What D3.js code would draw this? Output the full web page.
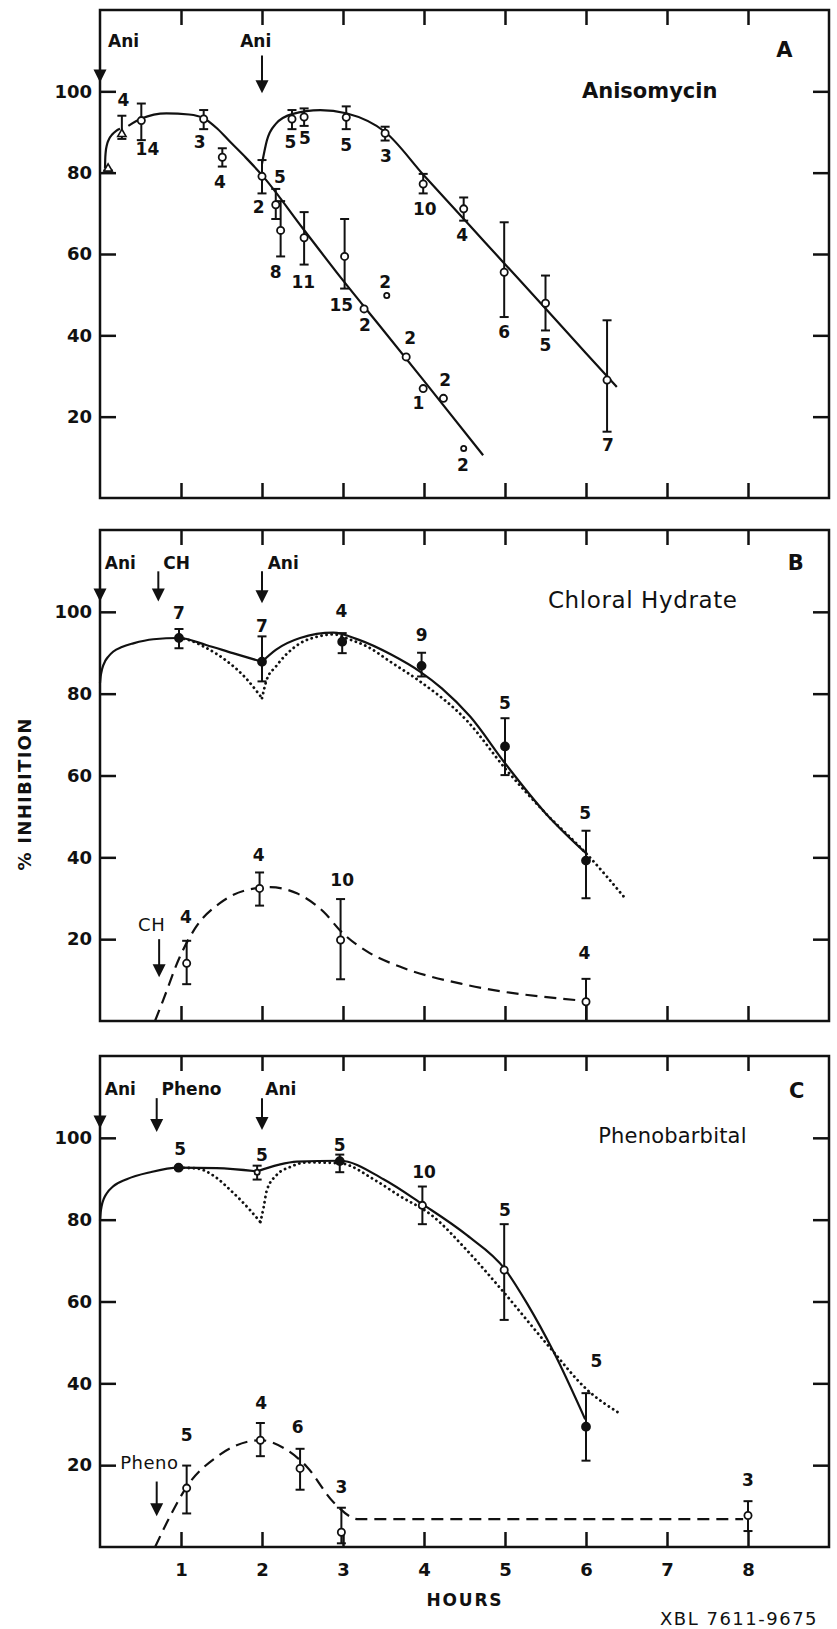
<!DOCTYPE html>
<html>
<head>
<meta charset="utf-8">
<title>% inhibition after anisomycin</title>
<script src="https://d3js.org/d3.v7.min.js"></script>
<style>
  body { margin: 0; background: #fff; }
  svg { display: block; }
  text { font-family: "DejaVu Sans", sans-serif; fill: #111; }
  .tick text { font-size: 18px; font-weight: bold; }
  .n { font-size: 17px; font-weight: bold; }
  .drug { font-size: 17px; font-weight: bold; }
  .drug2 { font-size: 18px; letter-spacing: 0.5px; }
  .letter { font-size: 21px; font-weight: bold; }
</style>
</head>
<body>
<script>
const width = 837, height = 1629;

// axes
const hourTicks = [1, 2, 3, 4, 5, 6, 7, 8];
const pctTicks = [20, 40, 60, 80, 100];

// ---- A: anisomycin alone (h = hours, v = % inhibition, lo/hi = error bar)
const aPoints = [
  {h: 0.10, v: 80.5, lo: 80.5, hi: 80.5, m: 'tri'},
  {h: 0.27, v: 89.0, lo: 88.3, hi: 94.0, m: 'tri'},
  {h: 0.51, v: 92.8, lo: 88.0, hi: 97.0, m: 'open'},
  {h: 1.28, v: 93.2, lo: 90.7, hi: 95.4, m: 'open'},
  {h: 1.51, v: 83.8, lo: 81.5, hi: 86.0, m: 'open'},
  {h: 2.00, v: 79.1, lo: 74.9, hi: 83.1, m: 'open'},
  {h: 2.17, v: 72.1, lo: 68.6, hi: 76.0, m: 'open'},
  {h: 2.23, v: 65.8, lo: 59.4, hi: 73.0, m: 'open'},
  {h: 2.52, v: 64.0, lo: 57.4, hi: 70.3, m: 'open'},
  {h: 3.02, v: 59.4, lo: 51.5, hi: 68.6, m: 'open'},
  {h: 3.26, v: 46.5, m: 'open'},
  {h: 3.54, v: 49.8, m: 'small'},
  {h: 3.78, v: 34.7, m: 'open'},
  {h: 3.99, v: 26.9, m: 'open'},
  {h: 4.24, v: 24.5, m: 'open'},
  {h: 4.49, v: 12.2, m: 'small'},
  {h: 2.37, v: 93.2, lo: 90.7, hi: 95.4, m: 'open'},
  {h: 2.52, v: 93.7, lo: 91.5, hi: 95.8, m: 'open'},
  {h: 3.04, v: 93.6, lo: 90.7, hi: 96.3, m: 'open'},
  {h: 3.52, v: 89.7, lo: 87.9, hi: 91.3, m: 'open'},
  {h: 3.99, v: 77.2, lo: 74.9, hi: 79.7, m: 'open'},
  {h: 4.49, v: 71.1, lo: 68.2, hi: 73.9, m: 'open'},
  {h: 4.99, v: 55.5, lo: 44.5, hi: 67.8, m: 'open'},
  {h: 5.50, v: 47.9, lo: 41.2, hi: 54.7, m: 'open'},
  {h: 6.26, v: 29.0, lo: 16.3, hi: 43.7, m: 'open'}
];
// number of experiments, placed where they are written
const aCounts = [
  ['4', 0.29, 97.8], ['14', 0.585, 85.8], ['3', 1.23, 87.5], ['4', 1.48, 77.7],
  ['2', 1.96, 71.7], ['5', 2.22, 78.9], ['8', 2.17, 55.6], ['11', 2.51, 53.1],
  ['15', 2.98, 47.4], ['2', 3.27, 42.5], ['2', 3.52, 53.1], ['2', 3.83, 39.3],
  ['1', 3.93, 23.3], ['2', 4.26, 29.0], ['2', 4.48, 8.1],
  ['5', 2.35, 87.5], ['5', 2.53, 88.6], ['5', 3.04, 86.9], ['3', 3.53, 84.2],
  ['10', 4.01, 71.0], ['4', 4.47, 64.6], ['6', 4.99, 40.9], ['5', 5.50, 37.6], ['7', 6.27, 13.0]
];
const aSolid = [
  [[0.062, 81.0], [0.064, 83.0], [0.07, 85.0], [0.085, 86.8], [0.11, 88.2], [0.15, 89.4],
   [0.2, 90.3], [0.247, 90.8]],
  [[0.35, 91.5], [0.51, 93.3], [0.82, 94.6], [1.1, 94.3], [1.28, 93.4], [1.45, 90.8], [1.6, 87.7],
   [1.8, 83.7], [2.0, 79.4], [2.5, 66.4], [3.0, 53.5], [3.5, 41.2], [4.0, 28.8], [4.73, 10.5]],
  [[2.0, 82.2], [2.06, 87.9], [2.17, 92.0], [2.37, 94.4], [2.72, 95.4], [3.04, 94.6], [3.52, 90.0],
   [4.0, 79.3], [4.5, 68.4], [5.0, 57.5], [5.5, 46.6], [6.0, 35.6], [6.38, 27.3]]
];
const aDoses = [
  {drug: 'Ani', h: 0, top: 114.2, tip: 102.2, tx: 0.10, ty: 112.5},
  {drug: 'Ani', h: 2, top: 108.8, tip: 99.5, tx: 1.73, ty: 112.5}
];

// ---- B: chloral hydrate
const bPoints = [
  {h: 0.975, v: 93.6, lo: 91.1, hi: 95.8, m: 'fill'},
  {h: 2.00, v: 87.8, lo: 83.0, hi: 94.0, m: 'fill'},
  {h: 2.99, v: 92.7, lo: 89.9, hi: 94.8, m: 'fill'},
  {h: 3.97, v: 86.8, lo: 84.2, hi: 90.0, m: 'fill'},
  {h: 5.00, v: 67.1, lo: 60.1, hi: 74.0, m: 'fill'},
  {h: 6.00, v: 39.2, lo: 30.0, hi: 46.5, m: 'fill'},
  {h: 1.07, v: 14.1, lo: 9.0, hi: 19.6, m: 'open'},
  {h: 1.97, v: 32.4, lo: 28.2, hi: 36.3, m: 'open'},
  {h: 2.97, v: 19.8, lo: 10.2, hi: 29.8, m: 'open'},
  {h: 6.00, v: 4.7, lo: 0, hi: 10.3, m: 'open'}
];
const bCounts = [
  ['7', 0.975, 99.7], ['7', 2.0, 96.6], ['4', 2.98, 100.3], ['9', 3.97, 94.4],
  ['5', 5.0, 77.7], ['5', 5.99, 50.8],
  ['4', 1.06, 25.5], ['4', 1.96, 40.6], ['10', 2.99, 34.6], ['4', 5.98, 16.7]
];
const bSolid = [
  [[0, 82.6], [0.008, 84.2], [0.021, 85.6], [0.04, 86.9], [0.062, 87.9], [0.1, 89.0], [0.165, 90.3],
   [0.27, 91.4], [0.411, 92.3], [0.658, 93.3], [0.975, 93.6], [1.31, 91.9], [1.64, 89.9], [2.0, 87.8]],
  [[2.0, 87.8], [2.17, 90.7], [2.47, 93.6], [2.88, 94.9], [3.19, 93.2], [3.6, 89.5], [3.95, 85.4],
   [4.22, 81.3], [4.57, 74.4], [5.0, 63.0], [5.5, 50.8], [6.0, 41.0]]
];
const bDotted = [
  [[0.975, 93.6], [1.1, 93.1], [1.3, 91.3], [1.55, 88.2], [1.8, 83.8], [1.95, 80.2], [2.0, 78.9]],
  [[2.0, 78.9], [2.06, 83.5], [2.17, 86.6], [2.3, 89.6], [2.47, 92.3], [2.7, 94.0], [2.88, 94.5],
   [3.09, 93.2], [3.3, 91.5], [3.6, 87.6], [3.95, 83.0], [4.53, 73.4], [5.02, 61.3], [5.51, 50.6],
   [6.01, 40.8], [6.5, 29.6]]
];
const bDashed = [
  [[0.679, 0], [0.78, 5.1], [0.986, 15.7], [1.19, 23.1], [1.48, 28.8], [1.81, 32.0], [2.1, 32.7],
   [2.43, 31.2], [2.76, 26.7], [2.98, 21.8], [3.33, 16.6], [3.7, 13.3], [4.53, 8.8], [5.88, 5.1]]
];
const bDoses = [
  {drug: 'Ani', h: 0, top: 110.3, tip: 102.5, tx: 0.06, ty: 111.9},
  {drug: 'CH', h: 0.72, top: 109.9, tip: 102.5, tx: 0.78, ty: 112},
  {drug: 'Ani', h: 2, top: 109.9, tip: 102.1, tx: 2.07, ty: 112}
];
const bLateDoses = [
  {drug: 'CH', h: 0.73, top: 20, tip: 10.7, tx: 0.47, ty: 23.5}
];

// ---- C: phenobarbital
const cPoints = [
  {h: 0.97, v: 92.7, m: 'fill'},
  {h: 1.94, v: 91.6, lo: 89.8, hi: 93.2, m: 'small'},
  {h: 2.96, v: 94.3, lo: 91.6, hi: 95.9, m: 'fill'},
  {h: 3.98, v: 83.5, lo: 78.9, hi: 88.1, m: 'open'},
  {h: 4.99, v: 67.7, lo: 55.5, hi: 78.9, m: 'open'},
  {h: 6.00, v: 29.4, lo: 21.1, hi: 37.6, m: 'fill'},
  {h: 1.07, v: 14.4, lo: 8.2, hi: 19.9, m: 'open'},
  {h: 1.98, v: 26.1, lo: 22.2, hi: 30.3, m: 'open'},
  {h: 2.47, v: 19.2, lo: 14.0, hi: 24.0, m: 'open'},
  {h: 2.98, v: 3.6, lo: 0.9, hi: 9.6, m: 'open'},
  {h: 8.00, v: 7.7, lo: 3.9, hi: 11.2, m: 'open'}
];
const cCounts = [
  ['5', 0.99, 97.3], ['5', 2.0, 95.9], ['5', 2.96, 98.4], ['10', 4.0, 91.6],
  ['5', 5.0, 82.4], ['5', 6.13, 45.4],
  ['5', 1.07, 27.5], ['4', 1.99, 35.3], ['6', 2.44, 29.4], ['3', 2.98, 14.8], ['3', 8.0, 16.4]
];
const cSolid = [
  [[0, 79.8], [0.008, 81.8], [0.021, 83.4], [0.045, 85.0], [0.082, 86.4], [0.16, 88.1], [0.33, 89.9],
   [0.62, 91.6], [0.97, 92.7], [1.44, 92.6], [1.94, 91.8]],
  [[1.94, 91.8], [2.2, 93.4], [2.43, 94.2], [2.96, 94.4], [3.5, 89.9], [3.98, 83.8], [4.53, 76.2],
   [5.0, 67.9], [5.27, 59.6], [5.6, 47.7], [5.99, 31.2]]
];
const cDotted = [
  [[0.97, 92.7], [1.2, 92.5], [1.42, 90.5], [1.6, 87.4], [1.85, 82.4], [1.98, 79.4]],
  [[1.98, 79.4], [2.02, 83.0], [2.06, 87.2], [2.18, 90.9], [2.35, 92.9], [2.55, 94.0], [2.96, 93.8],
   [3.4, 89.6], [3.7, 85.8], [4.1, 81.0], [4.53, 72.5], [4.94, 63.3], [5.56, 48.6], [6.01, 38.5],
   [6.42, 32.6]]
];
const cDashed = [
  [[0.68, 0], [0.86, 7.3], [1.07, 14.7], [1.44, 22.0], [1.98, 26.1], [2.3, 23.8], [2.55, 19.7],
   [2.88, 11.0], [3.19, 6.8], [3.5, 6.8], [7.94, 6.8]]
];
const cDoses = [
  {drug: 'Ani', h: 0, top: 114.7, tip: 102.3, tx: 0.06, ty: 112},
  {drug: 'Pheno', h: 0.7, top: 109.7, tip: 101.4, tx: 0.76, ty: 112},
  {drug: 'Ani', h: 2, top: 109.7, tip: 101.9, tx: 2.04, ty: 112}
];
const cLateDoses = [
  {drug: 'Pheno', h: 0.7, top: 16, tip: 7.5, tx: 0.25, ty: 20.6}
];

const panels = [
  {top: 10, bottom: 498, points: aPoints, counts: aCounts, solid: aSolid, dotted: [], dashed: [],
   doses: aDoses, late: [], letter: 'A', letterAt: [8.45, 110.3],
   title: 'Anisomycin', titleAt: [5.95, 100.2], titleStyle: 'font-size:21px;font-weight:bold'},
  {top: 530, bottom: 1021, points: bPoints, counts: bCounts, solid: bSolid, dotted: bDotted, dashed: bDashed,
   doses: bDoses, late: bLateDoses, letter: 'B', letterAt: [8.59, 112.1],
   title: 'Chloral Hydrate', titleAt: [5.53, 102.9], titleStyle: 'font-size:23px;letter-spacing:0.6px'},
  {top: 1056, bottom: 1547, points: cPoints, counts: cCounts, solid: cSolid, dotted: cDotted, dashed: cDashed,
   doses: cDoses, late: cLateDoses, letter: 'C', letterAt: [8.6, 111.7], hours: true,
   title: 'Phenobarbital', titleAt: [6.15, 100.5], titleStyle: 'font-size:21px;letter-spacing:0.2px'}
];

let svg = d3.select('body').append('svg').attr('width', width).attr('height', height)
  .style('background', '#fff');

let x = d3.scaleLinear().domain([0, 9]).range([100, 829]);

panels.forEach(p => {
  let y = d3.scaleLinear().domain([0, 120]).range([p.bottom, p.top]);
  let g = svg.append('g');

  // ticks on all four sides, pointing in
  let axes = [
    [d3.axisBottom(x).tickValues(hourTicks).tickSize(-15).tickPadding(16)
       .tickFormat(p.hours ? d3.format('d') : () => ''), `translate(0,${p.bottom})`],
    [d3.axisTop(x).tickValues(hourTicks).tickSize(-15).tickFormat(() => ''), `translate(0,${p.top})`],
    [d3.axisLeft(y).tickValues(pctTicks).tickSize(-16).tickPadding(8), `translate(${x(0)},0)`],
    [d3.axisRight(y).tickValues(pctTicks).tickSize(-16).tickFormat(() => ''), `translate(${x(9)},0)`]
  ];
  axes.forEach(([ax, tr]) => {
    let a = g.append('g').attr('transform', tr).call(ax);
    a.select('.domain').remove();
    a.selectAll('.tick line').attr('stroke', '#111').attr('stroke-width', 2.5);
    a.selectAll('.tick text').attr('fill', '#111').attr('font-family', null).attr('font-size', null);
  });
  g.append('rect').attr('x', x(0)).attr('y', y(120)).attr('width', x(9) - x(0)).attr('height', y(0) - y(120))
    .attr('fill', 'none').attr('stroke', '#111').attr('stroke-width', 2.5);

  // fitted curves
  let line = d3.line().x(d => x(d[0])).y(d => y(d[1])).curve(d3.curveMonotoneX);
  let styles = [
    [p.solid, null, 2.2, 'butt'],
    [p.dotted, '0.1 5', 2.8, 'round'],
    [p.dashed, '12 7', 2.2, 'butt']
  ];
  styles.forEach(([segs, dash, w, cap]) => {
    g.selectAll(null).data(segs).enter().append('path')
      .attr('d', line).attr('fill', 'none').attr('stroke', '#111')
      .attr('stroke-width', w).attr('stroke-dasharray', dash).attr('stroke-linecap', cap);
  });

  // error bars
  let eb = p.points.filter(d => d.lo != null);
  g.selectAll(null).data(eb).enter().append('line')
    .attr('x1', d => x(d.h)).attr('x2', d => x(d.h))
    .attr('y1', d => y(d.lo)).attr('y2', d => y(d.hi))
    .attr('stroke', '#111').attr('stroke-width', 2);
  ['lo', 'hi'].forEach(k => {
    g.selectAll(null).data(eb).enter().append('line')
      .attr('x1', d => x(d.h) - 4.5).attr('x2', d => x(d.h) + 4.5)
      .attr('y1', d => y(d[k])).attr('y2', d => y(d[k]))
      .attr('stroke', '#111').attr('stroke-width', 2);
  });

  // markers
  let tri = d3.symbol(d3.symbolTriangle, 30);
  g.selectAll(null).data(p.points.filter(d => d.m === 'tri')).enter().append('path')
    .attr('d', tri).attr('transform', d => `translate(${x(d.h)},${y(d.v) - 2})`)
    .attr('fill', '#fff').attr('stroke', '#111').attr('stroke-width', 1.6);
  g.selectAll(null).data(p.points.filter(d => d.m !== 'tri')).enter().append('circle')
    .attr('cx', d => x(d.h)).attr('cy', d => y(d.v))
    .attr('r', d => d.m === 'small' ? 2.6 : d.m === 'fill' ? 4 : 3.6)
    .attr('fill', d => d.m === 'fill' ? '#111' : '#fff')
    .attr('stroke', '#111').attr('stroke-width', 1.8);

  // n labels
  g.selectAll(null).data(p.counts).enter().append('text').classed('n', true)
    .attr('x', d => x(d[1])).attr('y', d => y(d[2])).attr('dy', '0.36em')
    .attr('text-anchor', 'middle').text(d => d[0]);

  // dosing arrows
  let arrows = (list, cls) => {
    list.forEach(d => {
      let ax = x(d.h), yt = y(d.tip);
      g.append('line').attr('x1', ax).attr('x2', ax).attr('y1', y(d.top)).attr('y2', yt - 10)
        .attr('stroke', '#111').attr('stroke-width', 2);
      g.append('path').attr('d', `M${ax - 6.5},${yt - 13}L${ax + 6.5},${yt - 13}L${ax},${yt}Z`).attr('fill', '#111');
      g.append('text').classed(cls, true).attr('x', x(d.tx)).attr('y', y(d.ty)).attr('dy', '0.36em').text(d.drug);
    });
  };
  arrows(p.doses, 'drug');
  arrows(p.late, 'drug2');

  g.append('text').classed('letter', true).attr('x', x(p.letterAt[0])).attr('y', y(p.letterAt[1]))
    .attr('dy', '0.36em').attr('text-anchor', 'middle').text(p.letter);
  g.append('text').attr('style', p.titleStyle).attr('x', x(p.titleAt[0])).attr('y', y(p.titleAt[1]))
    .attr('dy', '0.36em').text(p.title);
});

svg.append('text').attr('transform', 'translate(31,794) rotate(-90)').attr('text-anchor', 'middle')
  .style('font-size', '18px').style('font-weight', 'bold').style('letter-spacing', '1.3px')
  .text('% INHIBITION');
svg.append('text').attr('x', 465).attr('y', 1600).attr('dy', '0.36em').attr('text-anchor', 'middle')
  .style('font-size', '17px').style('font-weight', 'bold').style('letter-spacing', '1.8px')
  .text('HOURS');
svg.append('text').attr('x', 660).attr('y', 1619).attr('dy', '0.36em')
  .style('font-size', '18px').style('letter-spacing', '1.5px')
  .text('XBL 7611-9675');
</script>
</body>
</html>
